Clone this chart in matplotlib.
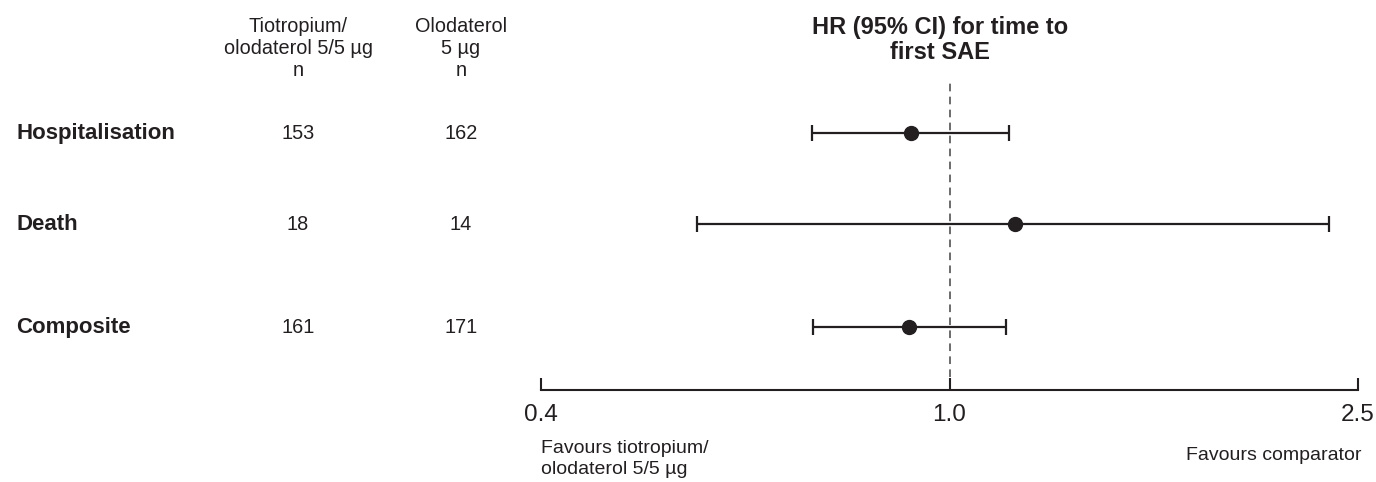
import numpy as np
import matplotlib
matplotlib.use("Agg")
import matplotlib.pyplot as plt
import matplotlib.transforms as mtransforms

plt.rcParams['font.family'] = ['Liberation Sans', 'DejaVu Sans']

# data
outcomes = ["Hospitalisation", "Death", "Composite"]
n_tio_olo = [153, 18, 161]
n_olo = [162, 14, 171]
hr = [0.918, 1.157, 0.914]
ci_low = [0.735, 0.567, 0.737]
ci_high = [1.144, 2.342, 1.134]
xticks = [0.4, 1.0, 2.5]
xtick_labels = ["0.4", "1.0", "2.5"]

ink = "#231f20"
W, H = 1376, 482

fig = plt.figure(figsize=(W / 100, H / 100), dpi=100)
ax = fig.add_axes([541 / W, 1 - 390 / H, (1358 - 541) / W, (390 - 80) / H])

rows = [0, 0.94, 2.0]
ax.set_xscale("log")
ax.set_xlim(0.4, 2.5)
ax.set_ylim(2.65, -0.55)

err = [np.array(hr) - np.array(ci_low), np.array(ci_high) - np.array(hr)]
ax.errorbar(hr, rows, xerr=err, fmt="o", color=ink, ms=10, elinewidth=1.6,
            capsize=6, capthick=1.6, zorder=3)
ax.axvline(1.0, color="#444444", lw=1.1, ls=(0, (5, 3.5)), zorder=1)

for s in ["top", "left", "right"]:
    ax.spines[s].set_visible(False)
ax.spines["bottom"].set_linewidth(1.5)
ax.spines["bottom"].set_color(ink)
ax.set_yticks([])
ax.xaxis.set_minor_locator(matplotlib.ticker.NullLocator())
ax.set_xticks(xticks)
ax.set_xticklabels(xtick_labels)
ax.tick_params(axis="x", direction="in", length=9, width=1.5, color=ink,
               labelsize=17.5, pad=10, labelcolor=ink)

# left text columns tied to row positions
tr = mtransforms.blended_transform_factory(fig.transFigure, ax.transData)
for i, name in enumerate(outcomes):
    fig.text(16 / W, rows[i], name, transform=tr, ha="left", va="center",
             fontsize=16, fontweight="bold", color=ink)
    fig.text(298 / W, rows[i], str(n_tio_olo[i]), transform=tr, ha="center",
             va="center", fontsize=14.3, color=ink)
    fig.text(461 / W, rows[i], str(n_olo[i]), transform=tr, ha="center",
             va="center", fontsize=14.3, color=ink)

fig.text(298 / W, 1 - 48 / H, "Tiotropium/\nolodaterol 5/5 µg\nn", ha="center",
         va="center", fontsize=14.3, color=ink, linespacing=1.2)
fig.text(461 / W, 1 - 48 / H, "Olodaterol\n5 µg\nn", ha="center",
         va="center", fontsize=14.3, color=ink, linespacing=1.2)

fig.text(940 / W, 1 - 40 / H, "HR (95% CI) for time to\nfirst SAE", ha="center",
         va="center", fontsize=17, fontweight="bold", color=ink, linespacing=1.12)

fig.text(541 / W, 1 - 459 / H, "Favours tiotropium/\nolodaterol 5/5 µg", ha="left",
         va="center", fontsize=14, color=ink, linespacing=1.3)
fig.text(1362 / W, 1 - 456 / H, "Favours comparator", ha="right",
         va="center", fontsize=14, color=ink)

fig.savefig("out.png", dpi=100)
